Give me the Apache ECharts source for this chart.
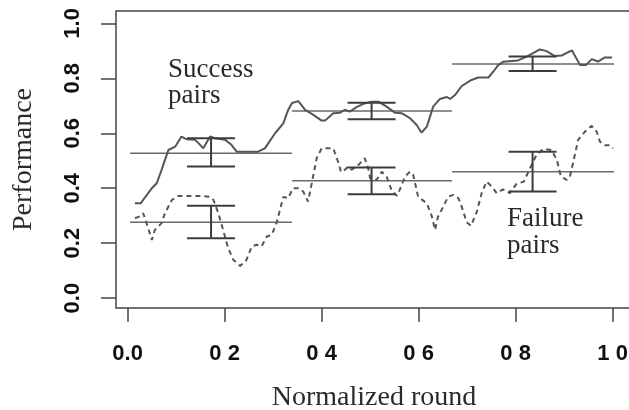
<!DOCTYPE html>
<html>
<head>
<meta charset="utf-8">
<script src="https://cdn.jsdelivr.net/npm/echarts@6/dist/echarts.min.js"></script>
<style>
  html, body { margin: 0; padding: 0; background: #fff; }
  #chart { width: 629px; height: 410px; }
</style>
</head>
<body>
<div id="chart"></div>
<script>
// tick positions and labels
const xTicks = [0, 0.2, 0.4, 0.6, 0.8, 1.0]
const xTickLabels = ['0.0', '0 2', '0 4', '0 6', '0 8', '1 0']
const yTicks = [0, 0.2, 0.4, 0.6, 0.8, 1.0]
const yTickLabels = ['0.0', '0.2', '0.4', '0.6', '0.8', '1.0']

// moving performance, [normalized round, performance]
const successCurve = [
  [0.015, 0.345], [0.027, 0.345], [0.036, 0.367], [0.050, 0.400], [0.060, 0.418],
  [0.070, 0.467], [0.084, 0.539], [0.098, 0.551], [0.111, 0.588], [0.122, 0.578],
  [0.139, 0.576], [0.146, 0.564], [0.156, 0.545], [0.170, 0.588], [0.180, 0.582],
  [0.201, 0.576], [0.214, 0.558], [0.225, 0.533], [0.269, 0.533], [0.283, 0.545],
  [0.304, 0.600], [0.321, 0.636], [0.331, 0.685], [0.339, 0.710], [0.352, 0.717],
  [0.366, 0.685], [0.383, 0.667], [0.400, 0.646], [0.407, 0.646], [0.424, 0.673],
  [0.438, 0.675], [0.448, 0.685], [0.458, 0.679], [0.472, 0.695], [0.486, 0.707],
  [0.503, 0.715], [0.517, 0.715], [0.534, 0.697], [0.551, 0.675], [0.565, 0.673],
  [0.582, 0.655], [0.596, 0.630], [0.606, 0.602], [0.617, 0.624], [0.630, 0.697],
  [0.644, 0.725], [0.658, 0.732], [0.665, 0.725], [0.675, 0.739], [0.689, 0.772],
  [0.709, 0.794], [0.723, 0.803], [0.744, 0.803], [0.754, 0.824], [0.764, 0.848],
  [0.774, 0.860], [0.805, 0.865], [0.823, 0.879], [0.850, 0.905], [0.864, 0.899],
  [0.881, 0.881], [0.895, 0.883], [0.916, 0.902], [0.933, 0.848], [0.945, 0.848],
  [0.957, 0.870], [0.970, 0.861], [0.984, 0.876], [0.999, 0.876]
]
const failureCurve = [
  [0.015, 0.291], [0.025, 0.297], [0.032, 0.309], [0.039, 0.273], [0.050, 0.212],
  [0.056, 0.248], [0.063, 0.260], [0.070, 0.273], [0.077, 0.309], [0.091, 0.357],
  [0.104, 0.372], [0.132, 0.372], [0.153, 0.372], [0.170, 0.369], [0.177, 0.357],
  [0.187, 0.309], [0.197, 0.248], [0.207, 0.183], [0.218, 0.139], [0.232, 0.117],
  [0.245, 0.139], [0.256, 0.188], [0.266, 0.194], [0.276, 0.188], [0.287, 0.224],
  [0.297, 0.230], [0.307, 0.273], [0.314, 0.321], [0.321, 0.368], [0.331, 0.364],
  [0.341, 0.400], [0.352, 0.400], [0.362, 0.388], [0.372, 0.351], [0.379, 0.412],
  [0.390, 0.510], [0.400, 0.545], [0.424, 0.545], [0.434, 0.496], [0.440, 0.459],
  [0.448, 0.467], [0.455, 0.479], [0.462, 0.467], [0.476, 0.485], [0.489, 0.509],
  [0.496, 0.473], [0.500, 0.436], [0.513, 0.430], [0.524, 0.460], [0.534, 0.442],
  [0.544, 0.394], [0.555, 0.372], [0.561, 0.394], [0.572, 0.442], [0.582, 0.460],
  [0.589, 0.448], [0.599, 0.369], [0.617, 0.345], [0.627, 0.299], [0.634, 0.248],
  [0.640, 0.297], [0.651, 0.333], [0.661, 0.369], [0.671, 0.376], [0.682, 0.364],
  [0.689, 0.332], [0.699, 0.277], [0.708, 0.263], [0.720, 0.314], [0.730, 0.382],
  [0.740, 0.424], [0.751, 0.406], [0.761, 0.382], [0.774, 0.396], [0.788, 0.382],
  [0.802, 0.416], [0.817, 0.424], [0.830, 0.474], [0.843, 0.521], [0.857, 0.543],
  [0.874, 0.539], [0.885, 0.503], [0.893, 0.445], [0.905, 0.430], [0.912, 0.442],
  [0.919, 0.496], [0.929, 0.576], [0.943, 0.606], [0.957, 0.627], [0.967, 0.606],
  [0.974, 0.569], [0.984, 0.556], [0.994, 0.556], [1.001, 0.545]
]

// phase means and error bars
const phaseStart = [0.005, 0.339, 0.669]
const phaseEnd = [0.339, 0.669, 1.003]
const successMean = [0.527, 0.681, 0.852]
const failureMean = [0.276, 0.427, 0.460]
const barX = [0.172, 0.503, 0.835]
const successLow = [0.479, 0.651, 0.827]
const successHigh = [0.582, 0.711, 0.879]
const failureLow = [0.218, 0.378, 0.388]
const failureHigh = [0.336, 0.475, 0.533]

const meanRows = phaseStart.map((s, i) => [s, phaseEnd[i], successMean[i]])
  .concat(phaseStart.map((s, i) => [s, phaseEnd[i], failureMean[i]]))
const barRows = barX.map((x, i) => [x, successLow[i], successHigh[i]])
  .concat(barX.map((x, i) => [x, failureLow[i], failureHigh[i]]))

const tickFont = {
  fontFamily: 'Liberation Sans',
  fontWeight: 'bold',
  fontSize: 22,
  color: '#111'
}
const nameFont = {
  fontFamily: 'Liberation Serif',
  fontSize: 28,
  color: '#2a2a2a'
}

function renderMean(params, api) {
  const p1 = api.coord([api.value(0), api.value(2)])
  const p2 = api.coord([api.value(1), api.value(2)])
  return {
    type: 'line',
    shape: { x1: p1[0], y1: p1[1], x2: p2[0], y2: p2[1] },
    style: { stroke: '#6a6a6a', lineWidth: 1.5 }
  }
}

function renderBar(params, api) {
  const lo = api.coord([api.value(0), api.value(1)])
  const hi = api.coord([api.value(0), api.value(2)])
  const half = 24
  const style = { stroke: '#3c3c3c', lineWidth: 2 }
  return {
    type: 'group',
    children: [
      { type: 'line', shape: { x1: lo[0], y1: lo[1], x2: hi[0], y2: hi[1] }, style },
      { type: 'line', shape: { x1: hi[0] - half, y1: hi[1], x2: hi[0] + half, y2: hi[1] }, style },
      { type: 'line', shape: { x1: lo[0] - half, y1: lo[1], x2: lo[0] + half, y2: lo[1] }, style }
    ]
  }
}

const chart = echarts.init(document.getElementById('chart'))
chart.setOption({
  animation: false,
  backgroundColor: '#fff',
  grid: {
    left: 116,
    top: 11,
    right: -3,
    bottom: 102,
    outerBoundsMode: 'none',
    show: true,
    borderColor: '#444',
    borderWidth: 1.5
  },
  xAxis: {
    type: 'value',
    min: -0.024,
    max: 1.04,
    name: 'Normalized round',
    nameLocation: 'middle',
    nameGap: 76,
    nameTextStyle: nameFont,
    axisLine: { show: false, onZero: false },
    splitLine: { show: false },
    axisTick: {
      show: true,
      inside: false,
      length: 14,
      customValues: xTicks,
      lineStyle: { color: '#444', width: 1.5 }
    },
    axisLabel: {
      margin: 35,
      customValues: xTicks,
      formatter: v => xTickLabels[xTicks.indexOf(v)],
      ...tickFont
    }
  },
  yAxis: {
    type: 'value',
    min: -0.036,
    max: 1.045,
    name: 'Performance',
    nameLocation: 'middle',
    nameGap: 78,
    nameTextStyle: nameFont,
    axisLine: { show: false, onZero: false },
    splitLine: { show: false },
    axisTick: {
      show: true,
      inside: false,
      length: 15,
      customValues: yTicks,
      lineStyle: { color: '#444', width: 1.5 }
    },
    axisLabel: {
      margin: 32,
      rotate: 90,
      customValues: yTicks,
      formatter: v => yTickLabels[yTicks.indexOf(v)],
      ...tickFont
    }
  },
  graphic: [
    {
      type: 'text',
      left: 168,
      top: 56,
      style: { text: 'Success\npairs', font: '27px "Liberation Serif"', lineHeight: 26, fill: '#2a2a2a' }
    },
    {
      type: 'text',
      left: 507,
      top: 205,
      style: { text: 'Failure\npairs', font: '27px "Liberation Serif"', lineHeight: 27, fill: '#2a2a2a' }
    }
  ],
  series: [
    {
      type: 'custom',
      renderItem: renderMean,
      data: meanRows,
      z: 1
    },
    {
      type: 'line',
      data: successCurve,
      showSymbol: false,
      lineStyle: { color: '#555', width: 2 },
      z: 2
    },
    {
      type: 'line',
      data: failureCurve,
      showSymbol: false,
      lineStyle: { color: '#555', width: 2, type: [5, 4] },
      z: 2
    },
    {
      type: 'custom',
      renderItem: renderBar,
      data: barRows,
      z: 3
    }
  ]
})
</script>
</body>
</html>
